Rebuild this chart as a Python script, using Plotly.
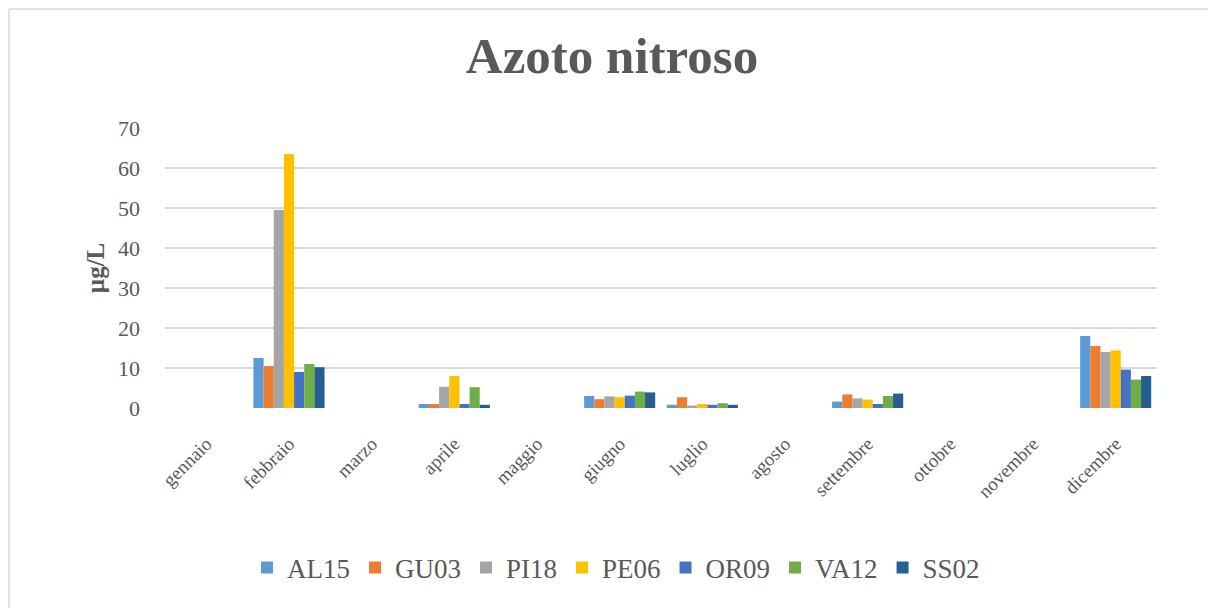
import plotly.graph_objects as go

months = ["gennaio", "febbraio", "marzo", "aprile", "maggio", "giugno",
          "luglio", "agosto", "settembre", "ottobre", "novembre", "dicembre"]
series_names = ["AL15", "GU03", "PI18", "PE06", "OR09", "VA12", "SS02"]
AL15 = [None, 12.5, None, 1.0, None, 3.0, 0.8, None, 1.6, None, None, 18.0]
GU03 = [None, 10.5, None, 1.0, None, 2.2, 2.7, None, 3.4, None, None, 15.5]
PI18 = [None, 49.5, None, 5.3, None, 2.9, 0.6, None, 2.4, None, None, 14.0]
PE06 = [None, 63.5, None, 8.0, None, 2.7, 1.0, None, 2.1, None, None, 14.4]
OR09 = [None, 9.0, None, 1.0, None, 3.1, 0.8, None, 1.0, None, None, 9.6]
VA12 = [None, 11.0, None, 5.2, None, 4.1, 1.2, None, 3.0, None, None, 7.1]
SS02 = [None, 10.2, None, 0.8, None, 3.9, 0.8, None, 3.6, None, None, 8.0]
values = [AL15, GU03, PI18, PE06, OR09, VA12, SS02]
colors = ["#5B9BD5", "#ED7D31", "#A5A5A5", "#FFC000", "#4472C4", "#70AD47", "#255E91"]
y_ticks = [0, 10, 20, 30, 40, 50, 60, 70]

FONT = "Liberation Serif"
GREY = "#595959"

W, H = 1208, 600
L, R, T, B = 157, 59, 120, 200
PW, PH = W - L - R, H - T - B

fig = go.Figure()
for name, vals, col in zip(series_names, values, colors):
    fig.add_trace(go.Bar(x=months, y=vals, name=name, marker_color=col,
                         marker_line_width=0))

border = dict(color="#D9D9D9", width=1.5)
top_y = 1 + (T - 1) / PH
left_x = (1 - L) / PW
fig.update_layout(
    width=W, height=H,
    paper_bgcolor="white", plot_bgcolor="white",
    margin=dict(l=L, r=R, t=T, b=B, autoexpand=False),
    barmode="group", bargap=0.14, bargroupgap=0.0,
    font=dict(family=FONT, color=GREY),
    title=dict(text="<b>Azoto nitroso</b>", x=0.5, xanchor="center",
               y=1 - 47 / H, yanchor="middle",
               font=dict(family=FONT, size=51, color=GREY)),
    legend=dict(orientation="h", x=(608 - L) / PW, xanchor="center", y=-0.571,
                yanchor="middle", font=dict(family=FONT, size=27, color=GREY),
                itemwidth=30, traceorder="normal"),
    shapes=[
        dict(type="line", xref="paper", yref="paper",
             x0=left_x, x1=(W - L) / PW,
             y0=top_y, y1=top_y, line=border, layer="below"),
        dict(type="line", xref="paper", yref="paper",
             x0=left_x, x1=left_x,
             y0=top_y, y1=-(B) / PH, line=border, layer="below"),
    ],
)
fig.update_xaxes(tickangle=-45, tickfont=dict(family=FONT, size=19, color=GREY),
                 showline=False, ticks="", showgrid=False, ticklabelstandoff=20)
fig.update_yaxes(range=[0, 70], tickvals=y_ticks,
                 tickfont=dict(family=FONT, size=22, color=GREY),
                 gridcolor="#D9D9D9", gridwidth=2, zeroline=False,
                 ticks="", ticklen=0, showline=False, ticklabelstandoff=24,
                 title=dict(text="<b>µg/L</b>", standoff=6,
                            font=dict(family=FONT, size=25, color=GREY)))

fig.write_html("out.html")
